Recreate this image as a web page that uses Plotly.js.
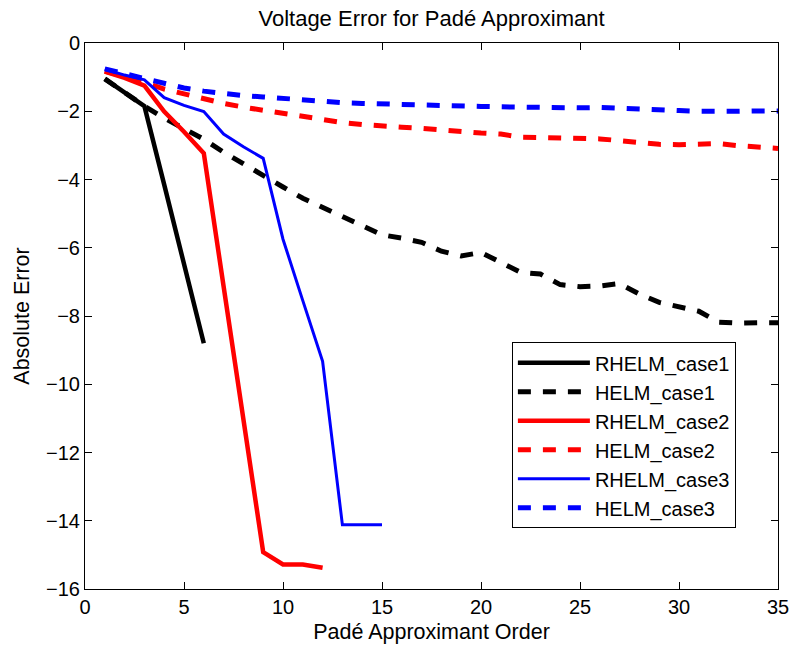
<!DOCTYPE html>
<html>
<head>
<meta charset="utf-8">
<script src="https://cdn.plot.ly/plotly-3.0.1.min.js"></script>
<style>html,body{margin:0;padding:0;background:#fff;}#chart{width:794px;height:647px;}</style>
</head>
<body>
<div id="chart"></div>
<script>
const orders1 = [1, 2, 3, 4, 5, 6];
const rhelmCase1 = [-1.05, -1.45, -1.85, -4.15, -6.45, -8.8];

const ordersHelm = [1,2,3,4,5,6,7,8,9,10,11,12,13,14,15,16,17,18,19,20,21,22,23,24,25,26,27,28,29,30,31,32,33,34,35];
const helmCase1 = [-1.05, -1.45, -1.85, -2.2, -2.5, -2.82, -3.2, -3.55, -3.86, -4.22, -4.55, -4.82, -5.12, -5.38, -5.62, -5.72, -5.84, -6.1, -6.24, -6.14, -6.43, -6.72, -6.77, -7.08, -7.14, -7.12, -7.05, -7.36, -7.6, -7.74, -7.86, -8.18, -8.21, -8.2, -8.2];

const orders2 = [1,2,3,4,5,6,7,8,9,10,11,12];
const rhelmCase2 = [-0.84, -1.02, -1.25, -2.01, -2.6, -3.23, -7.13, -11.03, -14.92, -15.28, -15.28, -15.38];

const helmCase2 = [-0.82, -0.98, -1.15, -1.35, -1.5, -1.64, -1.77, -1.88, -1.97, -2.05, -2.15, -2.25, -2.33, -2.39, -2.44, -2.47, -2.5, -2.55, -2.61, -2.64, -2.67, -2.76, -2.77, -2.78, -2.8, -2.81, -2.86, -2.93, -2.97, -2.98, -2.97, -2.95, -3.01, -3.05, -3.09];

const orders3 = [1,2,3,4,5,6,7,8,9,10,11,12,13,14,15];
const rhelmCase3 = [-0.77, -0.94, -1.08, -1.6, -1.83, -2.01, -2.67, -3.04, -3.38, -5.75, -7.55, -9.33, -14.12, -14.12, -14.12];

const helmCase3 = [-0.76, -0.9, -1.05, -1.2, -1.32, -1.41, -1.48, -1.54, -1.58, -1.63, -1.68, -1.72, -1.75, -1.77, -1.79, -1.8, -1.81, -1.83, -1.85, -1.86, -1.87, -1.88, -1.9, -1.91, -1.9, -1.89, -1.92, -1.94, -1.96, -1.98, -2.0, -2.01, -2.0, -1.99, -1.99];

const xTickVals = [0, 5, 10, 15, 20, 25, 30, 35];
const xTickText = ["0", "5", "10", "15", "20", "25", "30", "35"];
const yTickVals = [0, -2, -4, -6, -8, -10, -12, -14, -16];
const yTickText = ["0", "\u22122", "\u22124", "\u22126", "\u22128", "\u221210", "\u221212", "\u221214", "\u221216"];

const FONT = "Liberation Sans, Arial, Helvetica, sans-serif";
const DASH = "13px,12px";

const traces = [
  {x: orders1, y: rhelmCase1, name: "RHELM_case1", mode: "lines", line: {color: "#000000", width: 4.5}},
  {x: ordersHelm, y: helmCase1, name: "HELM_case1", mode: "lines", line: {color: "#000000", width: 5, dash: DASH}},
  {x: orders2, y: rhelmCase2, name: "RHELM_case2", mode: "lines", line: {color: "#ff0000", width: 4.5}},
  {x: ordersHelm, y: helmCase2, name: "HELM_case2", mode: "lines", line: {color: "#ff0000", width: 5, dash: DASH}},
  {x: orders3, y: rhelmCase3, name: "RHELM_case3", mode: "lines", line: {color: "#0000ff", width: 3}},
  {x: ordersHelm, y: helmCase3, name: "HELM_case3", mode: "lines", line: {color: "#0000ff", width: 5, dash: DASH}}
];

const layout = {
  width: 794, height: 647,
  margin: {l: 85, r: 16, t: 43, b: 58},
  paper_bgcolor: "#ffffff", plot_bgcolor: "#ffffff",
  font: {family: FONT, size: 20, color: "#000000"},
  title: {text: "Voltage Error for Padé Approximant", font: {family: FONT, size: 22, color: "#000"},
          x: 0.5, xref: "paper", y: 1 - 18/647, yref: "container", yanchor: "middle"},
  xaxis: {
    range: [0, 35], tickvals: xTickVals, ticktext: xTickText,
    ticks: "inside", ticklen: 7, tickwidth: 1, tickcolor: "#000",
    showline: true, linecolor: "#000", linewidth: 1, mirror: "ticks",
    showgrid: false, zeroline: false,
    tickfont: {family: FONT, size: 20},
    title: {text: "Padé Approximant Order", font: {family: FONT, size: 21.5}, standoff: 6}
  },
  yaxis: {
    range: [-16, 0], tickvals: yTickVals, ticktext: yTickText,
    ticks: "inside", ticklen: 7, tickwidth: 1, tickcolor: "#000",
    showline: true, linecolor: "#000", linewidth: 1, mirror: "ticks",
    showgrid: false, zeroline: false,
    tickfont: {family: FONT, size: 20},
    title: {text: "Absolute Error", font: {family: FONT, size: 21.5}, standoff: 10}
  },
  legend: {
    x: 0.616, y: 0.452, xanchor: "left", yanchor: "top",
    bgcolor: "#ffffff", bordercolor: "#000000", borderwidth: 1,
    font: {family: FONT, size: 20}, itemwidth: 72, tracegroupgap: 0
  },
  showlegend: true
};

Plotly.newPlot("chart", traces, layout, {staticPlot: true, displayModeBar: false});
</script>
</body>
</html>
